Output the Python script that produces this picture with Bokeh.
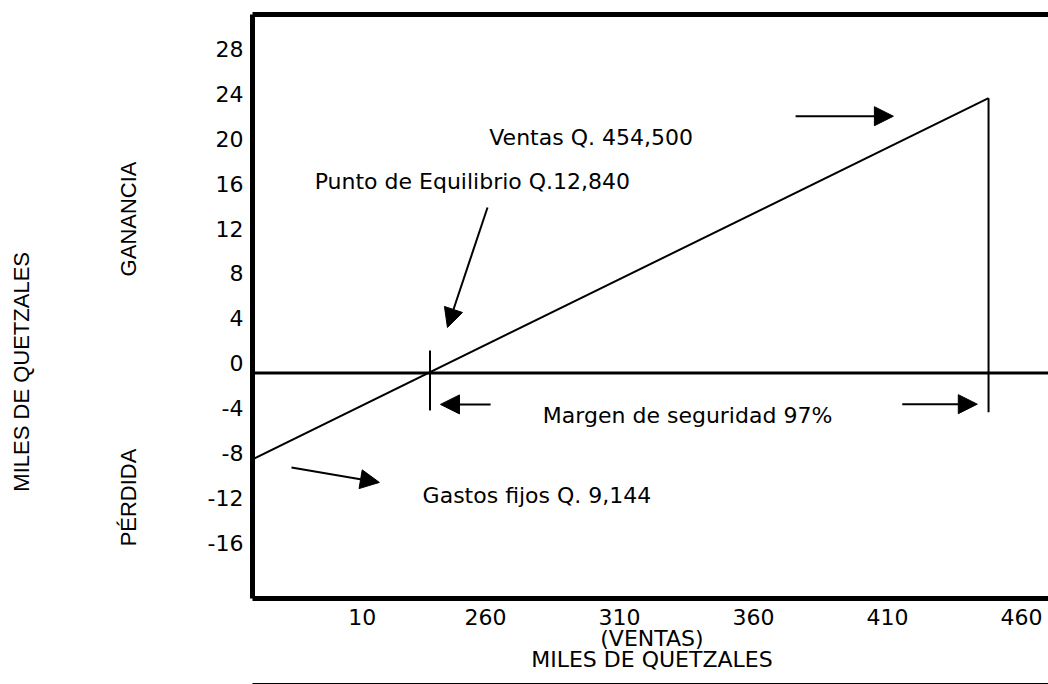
from bokeh.plotting import figure
from bokeh.models import (Range1d, FixedTicker, LinearAxis, Label, Arrow,
                          NormalHead, ColumnDataSource)
from bokeh.embed import file_html
from bokeh.resources import INLINE

# ---------------- data (miles de quetzales) ----------------
x_tick_pos = [214, 260, 310, 360, 410, 460]
x_tick_labels = ["10", "260", "310", "360", "410", "460"]
y_tick_vals = [-16, -12, -8, -4, 0, 4, 8, 12, 16, 20, 24, 28]
y_tick_labels = ["-16", "-12", "-8", "-4", "0", "4", "8", "12", "16", "20", "24", "28"]

# recta de ventas / resultado
ventas_x = [173.0, 447.7]
ventas_y = [-7.7, 24.48]
# punto de equilibrio y nivel de ventas
equilibrio_x = 239.3
equilibrio_marca_y = [2.0, -3.34]
ventas_fin_x = 447.7
ventas_fin_y = [24.48, -3.49]

# flechas (inicio -> punta)
arrow_x0 = [260.75, 375.7, 261.9, 415.5, 187.6]
arrow_y0 = [14.74, 22.87, -2.8, -2.78, -8.42]
arrow_x1 = [245.8, 412.2, 243.2, 443.5, 220.4]
arrow_y1 = [4.05, 22.87, -2.8, -2.78, -9.75]

# rotulos laterales
zona_pos = [13.72, -11.09]
zona_labels = ["GANANCIA", "PÉRDIDA"]

# ---------------- figure ----------------
X0, X1 = 173.06, 470.07
Y0, Y1 = -20.09, 31.93
LABEL_SHIFT = 0.86
X_TITLE_POS = 322.1
Y_TITLE_POS = 0.1

HFONT = "DejaVu Sans"
HSIZE = "22px"
VFONT = "Liberation Sans"
VSIZE = "22px"

p = figure(width=1048, height=684, x_range=Range1d(X0, X1), y_range=Range1d(Y0, Y1),
           output_backend="svg", toolbar_location=None,
           min_border_left=252, min_border_right=0, min_border_top=14, min_border_bottom=86)
p.outline_line_color = None
p.grid.visible = False
p.background_fill_color = "white"
p.border_fill_color = "white"


def strip_ticks(ax):
    ax.major_tick_out = 0
    ax.major_tick_in = 0
    ax.minor_tick_out = 0
    ax.minor_tick_in = 0


for ax in [p.xaxis[0], p.yaxis[0]]:
    ax.axis_line_width = 5
    ax.axis_line_color = "black"
    strip_ticks(ax)
    ax.major_label_text_font = HFONT
    ax.major_label_text_font_size = HSIZE
    ax.major_label_text_color = "black"

p.xaxis.ticker = FixedTicker(ticks=x_tick_pos)
p.xaxis.major_label_overrides = dict(zip(x_tick_pos, x_tick_labels))
p.xaxis.major_label_standoff = 10

y_label_pos = [v + LABEL_SHIFT for v in y_tick_vals]
p.yaxis.ticker = FixedTicker(ticks=y_label_pos)
p.yaxis.major_label_overrides = dict(zip(y_label_pos, y_tick_labels))
p.yaxis.major_label_standoff = 9

top = LinearAxis(ticker=FixedTicker(ticks=[]), axis_line_width=5,
                 major_label_standoff=0, major_label_text_font_size="0px")
strip_ticks(top)
p.add_layout(top, "above")


def text_axis(place, ticks, labels, standoff, font, size, orientation="horizontal"):
    ax = LinearAxis(ticker=FixedTicker(ticks=ticks), axis_line_color=None,
                    major_label_overrides=dict(zip(ticks, labels)),
                    major_label_standoff=standoff, major_label_orientation=orientation,
                    major_label_text_font=font, major_label_text_font_size=size,
                    major_label_text_color="black")
    strip_ticks(ax)
    p.add_layout(ax, place)
    return ax


# titulos del eje x
text_axis("below", [X_TITLE_POS], ["(VENTAS)"], -2, HFONT, HSIZE)
miles_x = text_axis("below", [X_TITLE_POS], ["MILES DE QUETZALES"], -7, HFONT, HSIZE)
miles_x.axis_label = " "
miles_x.axis_label_text_font_size = "10px"
miles_x.axis_label_standoff = -5
# linea inferior de la pagina
base = LinearAxis(ticker=FixedTicker(ticks=[]), axis_line_width=1,
                  major_label_standoff=0, major_label_text_font_size="0px")
strip_ticks(base)
p.add_layout(base, "below")

# rotulos verticales
text_axis("left", zona_pos, zona_labels, 63, VFONT, VSIZE, "vertical")
text_axis("left", [Y_TITLE_POS], ["MILES DE QUETZALES"], 79, VFONT, VSIZE, "vertical")

# eje cero
p.segment(x0=[X0], y0=[0], x1=[X1], y1=[0], line_color="black", line_width=3)

# recta de ventas
p.line(ventas_x, ventas_y, line_color="black", line_width=2)

# marcas verticales
p.segment(x0=[equilibrio_x, ventas_fin_x], y0=[equilibrio_marca_y[0], ventas_fin_y[0]],
          x1=[equilibrio_x, ventas_fin_x], y1=[equilibrio_marca_y[1], ventas_fin_y[1]],
          line_color="black", line_width=2)

# flechas
src = ColumnDataSource(dict(x0=arrow_x0, y0=arrow_y0, x1=arrow_x1, y1=arrow_y1))
p.add_layout(Arrow(source=src, x_start="x0", y_start="y0", x_end="x1", y_end="y1",
                   line_color="black", line_width=2,
                   end=NormalHead(size=19, fill_color="black", line_color="black", line_width=1)))


# textos horizontales
def htext(x, y, t):
    p.add_layout(Label(x=x, y=y, text=t, text_align="center", text_baseline="alphabetic",
                       text_font=HFONT, text_font_size=HSIZE, text_color="black"))


htext(299.4, 20.97, "Ventas Q. 454,500")
htext(255.1, 17.03, "Punto de Equilibrio Q.12,840")
htext(335.4, -3.79, "Margen de seguridad 97%")
htext(279.2, -10.91, "Gastos fijos Q. 9,144")

open("out.html", "w").write(file_html(p, INLINE))
